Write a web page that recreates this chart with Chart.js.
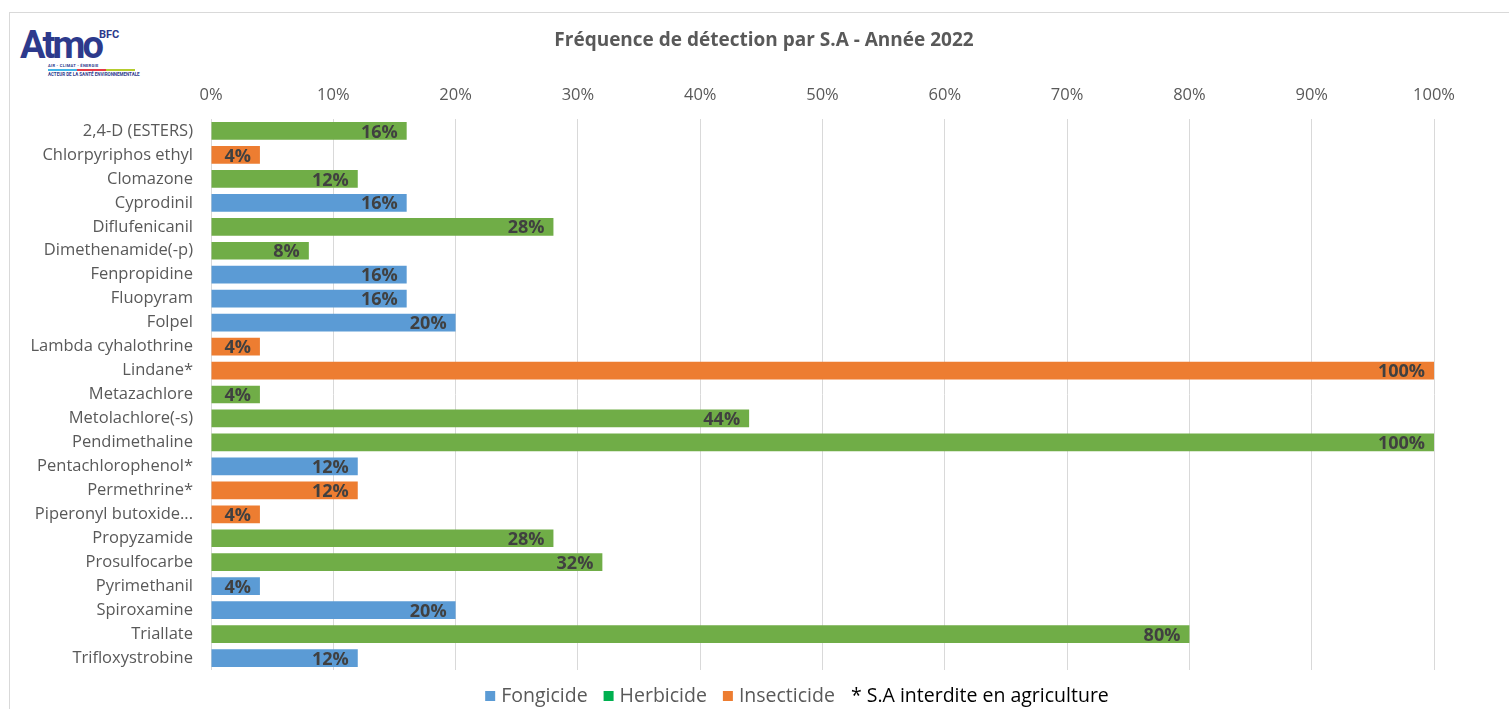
<!DOCTYPE html>
<html>
<head>
<meta charset="utf-8">
<script src="https://cdn.jsdelivr.net/npm/chart.js@4"></script>
<style>
  html, body { margin: 0; padding: 0; background: #ffffff; width: 1509px; height: 709px; overflow: hidden; }
  #frame { position: absolute; left: 9px; top: 12px; width: 1600px; height: 800px; border: 1px solid #d9d9d9; box-sizing: border-box; }
  #wrap { position: absolute; left: 0; top: 0; width: 1509px; height: 709px; }
  #logo { position: absolute; left: 20px; top: 22px; width: 130px; height: 60px; font-family: "Roboto", "Liberation Sans", sans-serif; color: #2d3a8c; }
  #logo .atmo { position: absolute; left: 0; top: 1px; font-size: 38px; font-weight: 700; letter-spacing: -2.8px; line-height: 44px; }
  #logo .bfc { position: absolute; left: 79px; top: 7px; font-size: 11px; font-weight: 700; line-height: 12px; }
  #logo .sub1 { position: absolute; left: 28px; top: 41px; font-size: 4px; line-height: 5px; font-weight: 700; white-space: nowrap; letter-spacing: 0.3px; }
  #logo .bar { position: absolute; top: 47px; height: 2px; }
  #logo .sub2 { position: absolute; left: 28px; top: 50px; font-size: 4.5px; line-height: 5px; font-weight: 700; white-space: nowrap; }
</style>
</head>
<body>
<div id="frame"></div>
<div id="logo">
  <div class="atmo">Atmo</div>
  <div class="bfc">BFC</div>
  <div class="sub1">AIR - CLIMAT - ÉNERGIE</div>
  <div class="bar" style="left:28px;width:29px;background:#3fb6e8"></div>
  <div class="bar" style="left:57px;width:29px;background:#e63946"></div>
  <div class="bar" style="left:86px;width:29px;background:#b5cc2e"></div>
  <div class="sub2">ACTEUR DE LA SANTÉ ENVIRONNEMENTALE</div>
</div>
<div id="wrap"><canvas id="c" width="1509" height="709"></canvas></div>
<script>
const categories = [
  "2,4-D (ESTERS)", "Chlorpyriphos ethyl", "Clomazone", "Cyprodinil", "Diflufenicanil",
  "Dimethenamide(-p)", "Fenpropidine", "Fluopyram", "Folpel", "Lambda cyhalothrine",
  "Lindane*", "Metazachlore", "Metolachlore(-s)", "Pendimethaline", "Pentachlorophenol*",
  "Permethrine*", "Piperonyl butoxide...", "Propyzamide", "Prosulfocarbe", "Pyrimethanil",
  "Spiroxamine", "Triallate", "Trifloxystrobine"
];
const frequencies = [16, 4, 12, 16, 28, 8, 16, 16, 20, 4, 100, 4, 44, 100, 12, 12, 4, 28, 32, 4, 20, 80, 12];
const substanceTypes = ["H", "I", "H", "F", "H", "H", "F", "F", "F", "I", "I", "H", "H", "H", "F", "I", "I", "H", "H", "F", "F", "H", "F"];
const typeKeys = ["F", "H", "I"];
const typeNames = { F: "Fongicide", H: "Herbicide", I: "Insecticide" };
const typeColors = { F: "#5b9bd5", H: "#70ad47", I: "#ed7d31" };
const legendColors = { F: "#5b9bd5", H: "#00b050", I: "#ed7d31" };
const xTicks = [0, 10, 20, 30, 40, 50, 60, 70, 80, 90, 100];
const noteText = "* S.A interdite en agriculture";
const chartTitle = "Fréquence de détection par S.A - Année 2022";

const FONT = '"Open Sans", "Liberation Sans", sans-serif';

const datasets = typeKeys.map(t => ({
  label: typeNames[t],
  data: frequencies.map((v, i) => substanceTypes[i] === t ? v : null),
  backgroundColor: typeColors[t],
  borderWidth: 0,
  barPercentage: 0.74,
  categoryPercentage: 1.0,
  grouped: false,
  skipNull: true
}));

const valueLabels = {
  id: "valueLabels",
  afterDatasetsDraw(chart) {
    const ctx = chart.ctx;
    ctx.save();
    ctx.font = 'bold 18px ' + FONT;
    ctx.fillStyle = "#404040";
    ctx.textAlign = "right";
    ctx.textBaseline = "middle";
    chart.data.datasets.forEach((ds, di) => {
      const meta = chart.getDatasetMeta(di);
      meta.data.forEach((bar, i) => {
        const v = ds.data[i];
        if (v === null || v === undefined) return;
        ctx.fillText(v + "%", bar.x - 9, bar.y + 1.5);
      });
    });
    ctx.restore();
  }
};

const titleAndLegend = {
  id: "titleAndLegend",
  afterDraw(chart) {
    const ctx = chart.ctx;
    ctx.save();
    // title
    ctx.font = 'bold 19px ' + FONT;
    ctx.fillStyle = "#595959";
    ctx.textAlign = "center";
    ctx.textBaseline = "middle";
    ctx.fillText(chartTitle, 764, 41);
    // legend
    ctx.font = '19.5px ' + FONT;
    ctx.textAlign = "left";
    const box = 10, gapBox = 6, gapItem = 16;
    const items = typeKeys.map(t => ({ text: typeNames[t], color: legendColors[t], textColor: "#595959" }));
    items.push({ text: noteText, color: null, textColor: "#000000" });
    let total = 0;
    items.forEach((it, i) => {
      it.w = ctx.measureText(it.text).width;
      total += (it.color ? box + gapBox : 0) + it.w + (i < items.length - 1 ? gapItem : 0);
    });
    let x = 797 - total / 2;
    const y = 696;
    items.forEach(it => {
      if (it.color) {
        ctx.fillStyle = it.color;
        ctx.fillRect(x, y - box / 2, box, box);
        x += box + gapBox;
      }
      ctx.fillStyle = it.textColor;
      ctx.fillText(it.text, x, y);
      x += it.w + gapItem;
    });
    ctx.restore();
  }
};

new Chart(document.getElementById("c"), {
  type: "bar",
  data: { labels: categories, datasets },
  plugins: [valueLabels, titleAndLegend],
  options: {
    indexAxis: "y",
    responsive: false,
    animation: false,
    layout: { padding: { left: 0, right: 75, top: 49, bottom: 39 } },
    plugins: {
      title: { display: false },
      legend: { display: false },
      tooltip: { enabled: false }
    },
    scales: {
      x: {
        position: "top",
        min: 0,
        max: 100,
        afterBuildTicks(scale) { scale.ticks = xTicks.map(v => ({ value: v })); },
        afterFit(scale) { scale.height = 70; },
        ticks: {
          callback: v => v + "%",
          color: "#595959",
          font: { family: FONT, size: 16.5 },
          padding: 14
        },
        grid: { color: "#d9d9d9", lineWidth: 1, drawTicks: false },
        border: { display: false }
      },
      y: {
        afterFit(scale) { scale.width = 211; },
        ticks: {
          color: "#595959",
          font: { family: FONT, size: 16.5 },
          padding: 18,
          autoSkip: false
        },
        grid: { display: false, drawTicks: false },
        border: { display: false }
      }
    }
  }
});
</script>
</body>
</html>
